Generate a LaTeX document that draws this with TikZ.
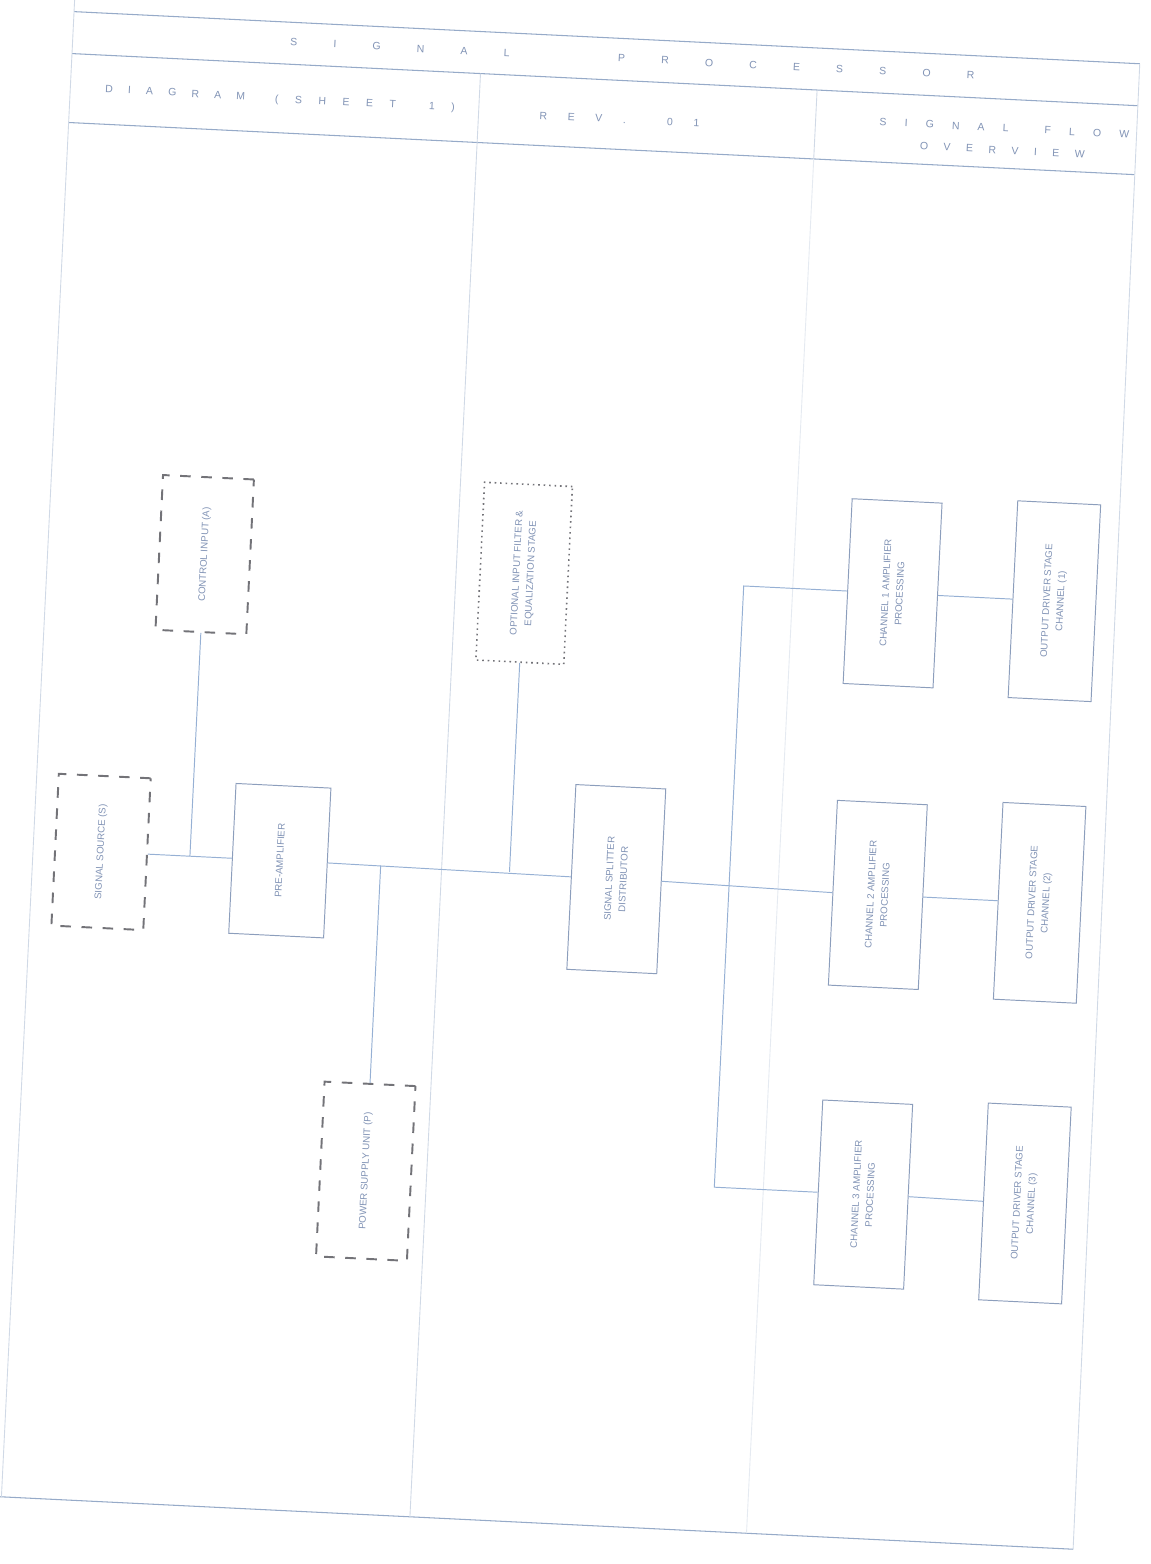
\documentclass[tikz,border=0pt]{standalone}
\usepackage{fontspec}
\setmainfont{Liberation Sans}
\definecolor{boxc}{RGB}{140,158,188}
\definecolor{connc}{RGB}{150,176,212}
\definecolor{dashc}{RGB}{115,115,120}
\definecolor{txtc}{RGB}{130,148,182}
\definecolor{framec}{RGB}{150,170,200}
\tikzset{
  blk/.style 2 args={draw=boxc, line width=0.55pt, minimum width=#1, minimum height=#2, inner sep=0pt},
  dblk/.style 2 args={draw=dashc, line width=1.1pt, dash pattern=on 6pt off 6pt, minimum width=#1, minimum height=#2, inner sep=0pt},
  oblk/.style 2 args={draw=dashc, line width=0.9pt, dash pattern=on 0.9pt off 2.2pt, minimum width=#1, minimum height=#2, inner sep=0pt},
  conn/.style={draw=connc, line width=0.55pt},
  framel/.style={draw=framec, line width=0.6pt},
  faintl/.style={draw=framec!45, line width=0.5pt},
  lbl/.style={text=txtc, font=\fontsize{5.5}{8}\selectfont, align=center, rotate=90, inner sep=0pt},
  hdr/.style={text=txtc, font=\fontsize{6}{8}\selectfont, inner sep=0pt}
}
\begin{document}
\begin{tikzpicture}[x=0.02cm,y=-0.02cm]
\useasboundingbox (0,0) rectangle (1150,1564);
\fill[white] (0,0) rectangle (1150,1564);
\clip (0,0) rectangle (1150,1564);
\begin{scope}[rotate around={-2.8:(575,782)}, transform shape]
  % frame and header
  \draw[framel] (37,37) -- (1104,37);
  \draw[framel] (37,79) -- (1104,79);
  \draw[framel] (37,148) -- (1104,148);
  \draw[framel] (30,1524) -- (1110,1524);
  \draw[faintl] (37,0) -- (37,1524);
  \draw[faintl] (1104,37) -- (1110,1524);
  \draw[faintl] (783,79) -- (783,148);
  \draw[faintl] (446,79) -- (446,148);
  \draw[faintl] (446,148) -- (446,1524);
  \draw[draw=framec!25, line width=0.5pt] (783,148) -- (783,1524);
  % header texts
  \node[hdr] (title) at (597,57) {\makebox[13.7cm][s]{S\hfil I\hfil G\hfil N\hfil A\hfil L\hfil\hfil\hfil P\hfil R\hfil O\hfil C\hfil E\hfil S\hfil S\hfil O\hfil R}};
  \node[hdr] (h1) at (142,113) {\makebox[2.8cm][s]{D\hfil I\hfil A\hfil G\hfil R\hfil A\hfil M}};
  \node[hdr] (h2) at (332,115) {\makebox[3.6cm][s]{(\hfil S\hfil H\hfil E\hfil E\hfil T\hfil\hfil 1\hfil )}};
  \node[hdr] (h3) at (587,118) {\makebox[3.2cm][s]{R\hfil E\hfil V\hfil .\hfil\hfil 0\hfil 1}};
  \node[hdr] (h4) at (972,108) {\makebox[5cm][s]{S\hfil I\hfil G\hfil N\hfil A\hfil L\hfil\hfil F\hfil L\hfil O\hfil W}};
  \node[hdr] (h5) at (971,130) {\makebox[3.3cm][s]{O\hfil V\hfil E\hfil R\hfil V\hfil I\hfil E\hfil W}};
  % blocks
  \node[dblk={1.82cm}{3.1cm}] (A) at (194,573) {};
  \node[oblk={1.76cm}{3.56cm}] (B) at (514,576) {};
  \node[dblk={1.84cm}{3.04cm}] (C) at (105,875) {};
  \node[blk={1.9cm}{3.0cm}] (D) at (284,875) {};
  \node[blk={1.8cm}{3.7cm}] (E) at (621,877) {};
  \node[dblk={1.82cm}{3.5cm}] (F) at (385,1181) {};
  \node[blk={1.8cm}{3.7cm}] (G1) at (883,578) {};
  \node[blk={1.8cm}{3.7cm}] (G2) at (883,880) {};
  \node[blk={1.8cm}{3.7cm}] (G3) at (883,1180) {};
  \node[blk={1.66cm}{3.94cm}] (H1) at (1045,578) {};
  \node[blk={1.66cm}{3.94cm}] (H2) at (1045,880) {};
  \node[blk={1.66cm}{3.94cm}] (H3) at (1045,1181) {};
  % labels
  \node[lbl] (tA) at (A) {CONTROL INPUT (A)};
  \node[lbl] (tB) at (B) {OPTIONAL INPUT FILTER \&\\EQUALIZATION STAGE};
  \node[lbl] (tC) at (C) {SIGNAL SOURCE (S)};
  \node[lbl] (tD) at (D) {PRE-AMPLIFIER};
  \node[lbl] (tE) at (E) {SIGNAL SPLITTER\\DISTRIBUTOR};
  \node[lbl] (tF) at (F) {POWER SUPPLY UNIT (P)};
  \node[lbl] (tG1) at (G1) {CHANNEL 1 AMPLIFIER\\PROCESSING};
  \node[lbl] (tG2) at (G2) {CHANNEL 2 AMPLIFIER\\PROCESSING};
  \node[lbl] (tG3) at (G3) {CHANNEL 3 AMPLIFIER\\PROCESSING};
  \node[lbl] (tH1) at (H1) {OUTPUT DRIVER STAGE\\CHANNEL (1)};
  \node[lbl] (tH2) at (H2) {OUTPUT DRIVER STAGE\\CHANNEL (2)};
  \node[lbl] (tH3) at (H3) {OUTPUT DRIVER STAGE\\CHANNEL (3)};
  % junctions
  \coordinate (jA) at (194,875);
  \coordinate (jF) at (385,875);
  \coordinate (jB) at (514,875);
  \coordinate (t1) at (734,578);
  \coordinate (t3) at (734,1180);
  % connectors
  \draw[conn] (C.east) -- (D.west);
  \draw[conn] (jA) -- (A.south);
  \draw[conn] (D.east) -- (E.west);
  \draw[conn] (jF) -- (F.north);
  \draw[conn] (jB) -- (B.south);
  \draw[conn] (E.east) -- (G2.west);
  \draw[conn] (G1.west) -- (t1) -- (t3) -- (G3.west);
  \draw[conn] (G1.east) -- (H1.west);
  \draw[conn] (G2.east) -- (H2.west);
  \draw[conn] (G3.east) -- (H3.west);
\end{scope}
\end{tikzpicture}
\end{document}
